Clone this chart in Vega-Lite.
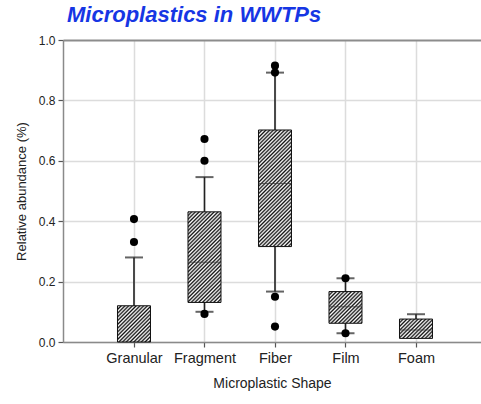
{
"$schema": "https://vega.github.io/schema/vega-lite/v6.json",
"width": 418, "height": 302,
"autosize": "none",
"padding": {"left": 63, "top": 40, "right": 0, "bottom": 62},
"title": {"text": "Microplastics in WWTPs", "anchor": "start", "frame": "group", "font": "Liberation Sans", "fontSize": 22, "fontWeight": "bold", "fontStyle": "italic", "color": "#1636e4", "dx": 4, "offset": 7},
"datasets": {
"boxes": [
{"shape":"Granular","lo":0,"q1":0,"med":null,"q3":0.12,"hi":0.28},
{"shape":"Fragment","lo":0.1,"q1":0.131,"med":0.264,"q3":0.431,"hi":0.546},
{"shape":"Fiber","lo":0.167,"q1":0.316,"med":0.525,"q3":0.702,"hi":0.892},
{"shape":"Film","lo":0.029,"q1":0.062,"med":0.117,"q3":0.167,"hi":0.211},
{"shape":"Foam","lo":0.012,"q1":0.012,"med":0.04,"q3":0.076,"hi":0.092}
],
"outliers": [
{"shape":"Granular","value":0.331},
{"shape":"Granular","value":0.407},
{"shape":"Fragment","value":0.093},
{"shape":"Fragment","value":0.6},
{"shape":"Fragment","value":0.672},
{"shape":"Fiber","value":0.051},
{"shape":"Fiber","value":0.15},
{"shape":"Fiber","value":0.892},
{"shape":"Fiber","value":0.915},
{"shape":"Film","value":0.029},
{"shape":"Film","value":0.211}
]
},
"encoding": {
"x": {"field": "shape", "type": "nominal", "sort": ["Granular","Fragment","Fiber","Film","Foam"], "scale": {"type": "point", "padding": 0.9645, "align": 0.522}, "title": "Microplastic Shape", "axis": {"grid": true}}
},
"layer": [
{"data": {"name": "boxes"},
 "mark": {"type": "rule", "color": "#222", "strokeWidth": 1.6},
 "encoding": {
  "y": {"field": "lo", "type": "quantitative", "scale": {"domain": [0, 1], "nice": false}, "title": "Relative abundance (%)", "axis": {"values": [0, 0.2, 0.4, 0.6, 0.8, 1], "format": ".1f", "gridColor": {"condition": {"test": "datum.value === 1", "value": "#8c8c8c"}, "value": "#dcdcdc"}, "gridWidth": {"condition": {"test": "datum.value === 1", "value": 2}, "value": 1.5}}},
  "y2": {"field": "hi"}
 }},
{"data": {"name": "boxes"}, "transform": [{"filter": "datum.shape === 'Granular'"}],
 "mark": {"type": "bar", "width": 33, "stroke": "#111", "strokeWidth": 1,
  "fill": {"gradient": "linear", "x1": 0, "y1": 0, "x2": 2.063, "y2": 2.263, "stops": [
{"offset":0,"color":"#111"},{"offset":0.0125,"color":"#fff"},{"offset":0.025,"color":"#111"},{"offset":0.0375,"color":"#fff"},{"offset":0.05,"color":"#111"},{"offset":0.0625,"color":"#fff"},{"offset":0.075,"color":"#111"},{"offset":0.0875,"color":"#fff"},{"offset":0.1,"color":"#111"},{"offset":0.1125,"color":"#fff"},{"offset":0.125,"color":"#111"},{"offset":0.1375,"color":"#fff"},{"offset":0.15,"color":"#111"},{"offset":0.1625,"color":"#fff"},{"offset":0.175,"color":"#111"},{"offset":0.1875,"color":"#fff"},{"offset":0.2,"color":"#111"},{"offset":0.2125,"color":"#fff"},{"offset":0.225,"color":"#111"},{"offset":0.2375,"color":"#fff"},{"offset":0.25,"color":"#111"},{"offset":0.2625,"color":"#fff"},{"offset":0.275,"color":"#111"},{"offset":0.2875,"color":"#fff"},{"offset":0.3,"color":"#111"},{"offset":0.3125,"color":"#fff"},{"offset":0.325,"color":"#111"},{"offset":0.3375,"color":"#fff"},{"offset":0.35,"color":"#111"},{"offset":0.3625,"color":"#fff"},{"offset":0.375,"color":"#111"},{"offset":0.3875,"color":"#fff"},{"offset":0.4,"color":"#111"},{"offset":0.4125,"color":"#fff"},{"offset":0.425,"color":"#111"},{"offset":0.4375,"color":"#fff"},{"offset":0.45,"color":"#111"},{"offset":0.4625,"color":"#fff"},{"offset":0.475,"color":"#111"}
  ]}},
 "encoding": {"y": {"field": "q1", "type": "quantitative", "title": "Relative abundance (%)"}, "y2": {"field": "q3"}}},
{"data": {"name": "boxes"}, "transform": [{"filter": "datum.shape === 'Fragment'"}],
 "mark": {"type": "bar", "width": 33, "stroke": "#111", "strokeWidth": 1,
  "fill": {"gradient": "linear", "x1": 0, "y1": 0, "x2": 0.5324, "y2": 1.4617, "stops": [
{"offset":0,"color":"#111"},{"offset":0.0125,"color":"#fff"},{"offset":0.025,"color":"#111"},{"offset":0.0375,"color":"#fff"},{"offset":0.05,"color":"#111"},{"offset":0.0625,"color":"#fff"},{"offset":0.075,"color":"#111"},{"offset":0.0875,"color":"#fff"},{"offset":0.1,"color":"#111"},{"offset":0.1125,"color":"#fff"},{"offset":0.125,"color":"#111"},{"offset":0.1375,"color":"#fff"},{"offset":0.15,"color":"#111"},{"offset":0.1625,"color":"#fff"},{"offset":0.175,"color":"#111"},{"offset":0.1875,"color":"#fff"},{"offset":0.2,"color":"#111"},{"offset":0.2125,"color":"#fff"},{"offset":0.225,"color":"#111"},{"offset":0.2375,"color":"#fff"},{"offset":0.25,"color":"#111"},{"offset":0.2625,"color":"#fff"},{"offset":0.275,"color":"#111"},{"offset":0.2875,"color":"#fff"},{"offset":0.3,"color":"#111"},{"offset":0.3125,"color":"#fff"},{"offset":0.325,"color":"#111"},{"offset":0.3375,"color":"#fff"},{"offset":0.35,"color":"#111"},{"offset":0.3625,"color":"#fff"},{"offset":0.375,"color":"#111"},{"offset":0.3875,"color":"#fff"},{"offset":0.4,"color":"#111"},{"offset":0.4125,"color":"#fff"},{"offset":0.425,"color":"#111"},{"offset":0.4375,"color":"#fff"},{"offset":0.45,"color":"#111"},{"offset":0.4625,"color":"#fff"},{"offset":0.475,"color":"#111"},{"offset":0.4875,"color":"#fff"},{"offset":0.5,"color":"#111"},{"offset":0.5125,"color":"#fff"},{"offset":0.525,"color":"#111"},{"offset":0.5375,"color":"#fff"},{"offset":0.55,"color":"#111"},{"offset":0.5625,"color":"#fff"},{"offset":0.575,"color":"#111"},{"offset":0.5875,"color":"#fff"},{"offset":0.6,"color":"#111"},{"offset":0.6125,"color":"#fff"},{"offset":0.625,"color":"#111"},{"offset":0.6375,"color":"#fff"},{"offset":0.65,"color":"#111"},{"offset":0.6625,"color":"#fff"},{"offset":0.675,"color":"#111"},{"offset":0.6875,"color":"#fff"},{"offset":0.7,"color":"#111"},{"offset":0.7125,"color":"#fff"},{"offset":0.725,"color":"#111"},{"offset":0.7375,"color":"#fff"},{"offset":0.75,"color":"#111"},{"offset":0.7625,"color":"#fff"},{"offset":0.775,"color":"#111"},{"offset":0.7875,"color":"#fff"},{"offset":0.8,"color":"#111"},{"offset":0.8125,"color":"#fff"},{"offset":0.825,"color":"#111"},{"offset":0.8375,"color":"#fff"}
  ]}},
 "encoding": {"y": {"field": "q1", "type": "quantitative", "title": "Relative abundance (%)"}, "y2": {"field": "q3"}}},
{"data": {"name": "boxes"}, "transform": [{"filter": "datum.shape === 'Fiber'"}],
 "mark": {"type": "bar", "width": 33, "stroke": "#111", "strokeWidth": 1,
  "fill": {"gradient": "linear", "x1": 0, "y1": 0, "x2": 0.3371, "y2": 1.191, "stops": [
{"offset":0,"color":"#111"},{"offset":0.0125,"color":"#fff"},{"offset":0.025,"color":"#111"},{"offset":0.0375,"color":"#fff"},{"offset":0.05,"color":"#111"},{"offset":0.0625,"color":"#fff"},{"offset":0.075,"color":"#111"},{"offset":0.0875,"color":"#fff"},{"offset":0.1,"color":"#111"},{"offset":0.1125,"color":"#fff"},{"offset":0.125,"color":"#111"},{"offset":0.1375,"color":"#fff"},{"offset":0.15,"color":"#111"},{"offset":0.1625,"color":"#fff"},{"offset":0.175,"color":"#111"},{"offset":0.1875,"color":"#fff"},{"offset":0.2,"color":"#111"},{"offset":0.2125,"color":"#fff"},{"offset":0.225,"color":"#111"},{"offset":0.2375,"color":"#fff"},{"offset":0.25,"color":"#111"},{"offset":0.2625,"color":"#fff"},{"offset":0.275,"color":"#111"},{"offset":0.2875,"color":"#fff"},{"offset":0.3,"color":"#111"},{"offset":0.3125,"color":"#fff"},{"offset":0.325,"color":"#111"},{"offset":0.3375,"color":"#fff"},{"offset":0.35,"color":"#111"},{"offset":0.3625,"color":"#fff"},{"offset":0.375,"color":"#111"},{"offset":0.3875,"color":"#fff"},{"offset":0.4,"color":"#111"},{"offset":0.4125,"color":"#fff"},{"offset":0.425,"color":"#111"},{"offset":0.4375,"color":"#fff"},{"offset":0.45,"color":"#111"},{"offset":0.4625,"color":"#fff"},{"offset":0.475,"color":"#111"},{"offset":0.4875,"color":"#fff"},{"offset":0.5,"color":"#111"},{"offset":0.5125,"color":"#fff"},{"offset":0.525,"color":"#111"},{"offset":0.5375,"color":"#fff"},{"offset":0.55,"color":"#111"},{"offset":0.5625,"color":"#fff"},{"offset":0.575,"color":"#111"},{"offset":0.5875,"color":"#fff"},{"offset":0.6,"color":"#111"},{"offset":0.6125,"color":"#fff"},{"offset":0.625,"color":"#111"},{"offset":0.6375,"color":"#fff"},{"offset":0.65,"color":"#111"},{"offset":0.6625,"color":"#fff"},{"offset":0.675,"color":"#111"},{"offset":0.6875,"color":"#fff"},{"offset":0.7,"color":"#111"},{"offset":0.7125,"color":"#fff"},{"offset":0.725,"color":"#111"},{"offset":0.7375,"color":"#fff"},{"offset":0.75,"color":"#111"},{"offset":0.7625,"color":"#fff"},{"offset":0.775,"color":"#111"},{"offset":0.7875,"color":"#fff"},{"offset":0.8,"color":"#111"},{"offset":0.8125,"color":"#fff"},{"offset":0.825,"color":"#111"},{"offset":0.8375,"color":"#fff"},{"offset":0.85,"color":"#111"},{"offset":0.8625,"color":"#fff"},{"offset":0.875,"color":"#111"},{"offset":0.8875,"color":"#fff"},{"offset":0.9,"color":"#111"},{"offset":0.9125,"color":"#fff"},{"offset":0.925,"color":"#111"},{"offset":0.9375,"color":"#fff"},{"offset":0.95,"color":"#111"},{"offset":0.9625,"color":"#fff"},{"offset":0.975,"color":"#111"},{"offset":0.9875,"color":"#fff"},{"offset":1,"color":"#111"}
  ]}},
 "encoding": {"y": {"field": "q1", "type": "quantitative", "title": "Relative abundance (%)"}, "y2": {"field": "q3"}}},
{"data": {"name": "boxes"}, "transform": [{"filter": "datum.shape === 'Film'"}],
 "mark": {"type": "bar", "width": 33, "stroke": "#111", "strokeWidth": 1,
  "fill": {"gradient": "linear", "x1": 0, "y1": 0, "x2": 2.364, "y2": 2.271, "stops": [
{"offset":0,"color":"#111"},{"offset":0.0125,"color":"#fff"},{"offset":0.025,"color":"#111"},{"offset":0.0375,"color":"#fff"},{"offset":0.05,"color":"#111"},{"offset":0.0625,"color":"#fff"},{"offset":0.075,"color":"#111"},{"offset":0.0875,"color":"#fff"},{"offset":0.1,"color":"#111"},{"offset":0.1125,"color":"#fff"},{"offset":0.125,"color":"#111"},{"offset":0.1375,"color":"#fff"},{"offset":0.15,"color":"#111"},{"offset":0.1625,"color":"#fff"},{"offset":0.175,"color":"#111"},{"offset":0.1875,"color":"#fff"},{"offset":0.2,"color":"#111"},{"offset":0.2125,"color":"#fff"},{"offset":0.225,"color":"#111"},{"offset":0.2375,"color":"#fff"},{"offset":0.25,"color":"#111"},{"offset":0.2625,"color":"#fff"},{"offset":0.275,"color":"#111"},{"offset":0.2875,"color":"#fff"},{"offset":0.3,"color":"#111"},{"offset":0.3125,"color":"#fff"},{"offset":0.325,"color":"#111"},{"offset":0.3375,"color":"#fff"},{"offset":0.35,"color":"#111"},{"offset":0.3625,"color":"#fff"},{"offset":0.375,"color":"#111"},{"offset":0.3875,"color":"#fff"},{"offset":0.4,"color":"#111"},{"offset":0.4125,"color":"#fff"},{"offset":0.425,"color":"#111"},{"offset":0.4375,"color":"#fff"}
  ]}},
 "encoding": {"y": {"field": "q1", "type": "quantitative", "title": "Relative abundance (%)"}, "y2": {"field": "q3"}}},
{"data": {"name": "boxes"}, "transform": [{"filter": "datum.shape === 'Foam'"}],
 "mark": {"type": "bar", "width": 33, "stroke": "#111", "strokeWidth": 1,
  "fill": {"gradient": "linear", "x1": 0, "y1": 0, "x2": 3.387, "y2": 1.981, "stops": [
{"offset":0,"color":"#111"},{"offset":0.0125,"color":"#fff"},{"offset":0.025,"color":"#111"},{"offset":0.0375,"color":"#fff"},{"offset":0.05,"color":"#111"},{"offset":0.0625,"color":"#fff"},{"offset":0.075,"color":"#111"},{"offset":0.0875,"color":"#fff"},{"offset":0.1,"color":"#111"},{"offset":0.1125,"color":"#fff"},{"offset":0.125,"color":"#111"},{"offset":0.1375,"color":"#fff"},{"offset":0.15,"color":"#111"},{"offset":0.1625,"color":"#fff"},{"offset":0.175,"color":"#111"},{"offset":0.1875,"color":"#fff"},{"offset":0.2,"color":"#111"},{"offset":0.2125,"color":"#fff"},{"offset":0.225,"color":"#111"},{"offset":0.2375,"color":"#fff"},{"offset":0.25,"color":"#111"},{"offset":0.2625,"color":"#fff"},{"offset":0.275,"color":"#111"},{"offset":0.2875,"color":"#fff"},{"offset":0.3,"color":"#111"},{"offset":0.3125,"color":"#fff"},{"offset":0.325,"color":"#111"},{"offset":0.3375,"color":"#fff"},{"offset":0.35,"color":"#111"},{"offset":0.3625,"color":"#fff"}
  ]}},
 "encoding": {"y": {"field": "q1", "type": "quantitative", "title": "Relative abundance (%)"}, "y2": {"field": "q3"}}},
{"data": {"name": "boxes"},
 "mark": {"type": "tick", "size": 33, "thickness": 1, "color": "#333"},
 "encoding": {"y": {"field": "med", "type": "quantitative", "title": "Relative abundance (%)"}}},
{"data": {"name": "boxes"},
 "mark": {"type": "tick", "size": 18, "thickness": 2, "color": "#222"},
 "encoding": {"y": {"field": "hi", "type": "quantitative", "title": "Relative abundance (%)"}}},
{"data": {"name": "boxes"}, "transform": [{"filter": "datum.lo < datum.q1"}],
 "mark": {"type": "tick", "size": 18, "thickness": 2, "color": "#222"},
 "encoding": {"y": {"field": "lo", "type": "quantitative", "title": "Relative abundance (%)"}}},
{"data": {"name": "outliers"},
 "mark": {"type": "circle", "size": 66, "color": "#000", "opacity": 1},
 "encoding": {"y": {"field": "value", "type": "quantitative", "title": "Relative abundance (%)"}}}
],
"config": {
 "font": "Liberation Sans",
 "view": {"stroke": null},
 "axis": {"labelFont": "Liberation Sans", "titleFont": "Liberation Sans", "labelColor": "#222", "titleColor": "#222", "titleFontWeight": "normal", "domainColor": "#8a8a8a", "domainWidth": 1.5, "tickColor": "#555", "tickWidth": 1.2, "tickSize": 5, "gridColor": "#dcdcdc", "gridWidth": 1.5},
 "axisX": {"labelFontSize": 14.5, "titleFontSize": 14, "labelAngle": 0, "labelPadding": 4, "titlePadding": 12},
 "axisY": {"labelFontSize": 12, "titleFontSize": 13, "labelPadding": 3, "titlePadding": 10}
}
}
